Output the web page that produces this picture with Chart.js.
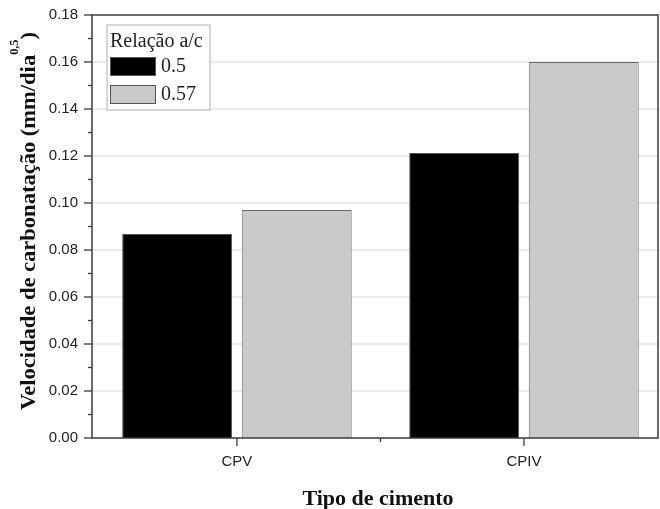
<!DOCTYPE html>
<html>
<head>
<meta charset="utf-8">
<script src="https://cdn.jsdelivr.net/npm/chart.js@4.4.1/dist/chart.umd.min.js"></script>
<style>
  body { margin: 0; background: #fff; }
  canvas { display: block; }
</style>
</head>
<body>
<canvas id="chart" width="660" height="509"></canvas>
<script>
// Dados
const categories = ["CPV", "CPIV"];
const ratioLabels = ["0.5", "0.57"];
const values05 = [0.0868, 0.1213];
const values057 = [0.097, 0.16];
const yMax = 0.18;
const yStep = 0.02;

const serif = "'Liberation Serif', 'Times New Roman', serif";
const sans = "'Liberation Sans', Arial, sans-serif";

// Moldura, marcas, títulos e legenda desenhados à mão
const framePlugin = {
  id: "frame",
  beforeDatasetsDraw(chart) {
    const { ctx, chartArea: a, scales } = chart;
    ctx.save();
    ctx.strokeStyle = "#e6e6e6";
    ctx.lineWidth = 1.5;
    scales.y.ticks.forEach((t) => {
      if (t.value <= 0 || t.value >= yMax) return;
      const y = scales.y.getPixelForValue(t.value);
      ctx.beginPath();
      ctx.moveTo(a.left, y);
      ctx.lineTo(a.right, y);
      ctx.stroke();
    });
    ctx.restore();
  },
  afterDatasetsDraw(chart) {
    const { ctx, chartArea: a, scales } = chart;
    ctx.save();
    ctx.strokeStyle = "#3a3a3a";
    ctx.lineWidth = 1.5;
    ctx.strokeRect(a.left, a.top, a.right - a.left, a.bottom - a.top);

    // marcas do eixo y (maiores e menores)
    ctx.lineWidth = 1.3;
    scales.y.ticks.forEach((t) => {
      const y = scales.y.getPixelForValue(t.value);
      ctx.beginPath();
      ctx.moveTo(a.left - 8, y);
      ctx.lineTo(a.left, y);
      ctx.stroke();
      if (t.value < yMax - 1e-9) {
        const ym = scales.y.getPixelForValue(t.value + yStep / 2);
        ctx.beginPath();
        ctx.moveTo(a.left - 4, ym);
        ctx.lineTo(a.left, ym);
        ctx.stroke();
      }
    });

    // marcas do eixo x
    categories.forEach((c, i) => {
      const x = scales.x.getPixelForValue(i + 1);
      ctx.beginPath();
      ctx.moveTo(x, a.bottom);
      ctx.lineTo(x, a.bottom + 8);
      ctx.stroke();
      if (i < categories.length - 1) {
        const xm = scales.x.getPixelForValue(i + 1.5);
        ctx.beginPath();
        ctx.moveTo(xm, a.bottom);
        ctx.lineTo(xm, a.bottom + 4);
        ctx.stroke();
      }
    });

    // título do eixo x
    ctx.fillStyle = "#111";
    ctx.font = "bold 22px " + serif;
    ctx.textAlign = "center";
    ctx.textBaseline = "middle";
    ctx.fillText("Tipo de cimento", 378, 499);

    // título do eixo y com expoente
    const main = "Velocidade de carbonatação (mm/dia";
    const sup = "0,5";
    const close = ")";
    ctx.translate(29, 221);
    ctx.rotate(-Math.PI / 2);
    ctx.textAlign = "left";
    ctx.textBaseline = "middle";
    ctx.font = "bold 22px " + serif;
    const w1 = ctx.measureText(main).width;
    const w3 = ctx.measureText(close).width;
    ctx.font = "bold 12px " + serif;
    const w2 = ctx.measureText(sup).width;
    const total = w1 + w2 + w3;
    ctx.scale(378 / total, 1);
    let x0 = -total / 2;
    ctx.font = "bold 22px " + serif;
    ctx.fillText(main, x0, 0);
    ctx.font = "bold 12px " + serif;
    ctx.fillText(sup, x0 + w1, -14);
    ctx.font = "bold 22px " + serif;
    ctx.fillText(close, x0 + w1 + w2, 0);
    ctx.restore();

    // legenda
    ctx.save();
    ctx.fillStyle = "#fff";
    ctx.fillRect(107, 25, 103, 85);
    ctx.strokeStyle = "#bbb";
    ctx.lineWidth = 1.2;
    ctx.strokeRect(107, 25, 103, 85);
    ctx.fillStyle = "#222";
    ctx.font = "20px " + serif;
    ctx.textBaseline = "middle";
    ctx.fillText("Relação a/c", 110, 42);
    chart.data.datasets.forEach((ds, i) => {
      const y = 57 + i * 28;
      ctx.fillStyle = ds.backgroundColor;
      ctx.fillRect(110, y, 45, 18);
      ctx.strokeStyle = "#555";
      ctx.lineWidth = 1;
      ctx.strokeRect(110.5, y + 0.5, 45, 18);
      ctx.fillStyle = "#222";
      ctx.fillText(ds.label, 161, y + 10);
    });
    ctx.restore();
  },
};

const ctx = document.getElementById("chart").getContext("2d");
const chart = new Chart(ctx, {
  type: "bar",
  data: {
    datasets: [
      {
        label: ratioLabels[0],
        data: categories.map((c, i) => ({ x: i + 1, y: values05[i] })),
        backgroundColor: "#000000",
        borderColor: "#555555",
        borderWidth: 1,
      },
      {
        label: ratioLabels[1],
        data: categories.map((c, i) => ({ x: i + 1, y: values057[i] })),
        backgroundColor: "#c9c9c9",
        borderColor: "#6a6a6a",
        borderWidth: 1,
      },
    ],
  },
  options: {
    responsive: false,
    animation: false,
    categoryPercentage: 0.833,
    barPercentage: 0.92,
    layout: { padding: { top: 8, right: 2, left: 0, bottom: 0 } },
    plugins: {
      legend: { display: false },
      tooltip: { enabled: false },
    },
    scales: {
      x: {
        type: "linear",
        offset: false,
        min: 0.495,
        max: 2.467,
        grid: { display: false, offset: false },
        border: { display: false },
        afterBuildTicks: (axis) => {
          axis.ticks = categories.map((c, i) => ({ value: i + 1 }));
        },
        afterFit: (scale) => {
          scale.height = 71;
        },
        ticks: {
          padding: 7,
          color: "#222",
          font: { family: sans, size: 15 },
          maxRotation: 0,
          callback: (v) => categories[v - 1] || "",
        },
      },
      y: {
        min: 0,
        max: yMax,
        grid: { display: false },
        border: { display: false },
        afterFit: (scale) => {
          scale.width = 92;
        },
        ticks: {
          stepSize: yStep,
          padding: 6,
          color: "#222",
          font: { family: sans, size: 15 },
          callback: (v) => v.toFixed(2),
        },
      },
    },
  },
  plugins: [framePlugin],
});
</script>
</body>
</html>
